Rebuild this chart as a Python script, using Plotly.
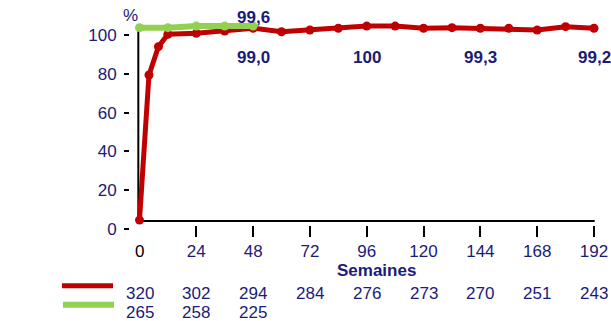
import plotly.graph_objects as go

# ---- data ----
red_weeks = [0, 4, 8, 12, 24, 36, 48, 60, 72, 84, 96, 108, 120, 132, 144, 156, 168, 180, 192]
red_vals = [4.6, 79.4, 94.0, 100.4, 100.9, 102.0, 103.5, 101.7, 102.6, 103.5, 104.6, 104.6,
            103.5, 103.8, 103.5, 103.5, 102.6, 104.3, 103.5]
green_weeks = [0, 12, 24, 36, 48]
green_vals = [103.8, 103.8, 104.6, 104.6, 104.6]

x_ticks = [24, 48, 72, 96, 120, 144, 168, 192]
y_ticks = [0, 20, 40, 60, 80, 100]

top_label_week = [48]
top_label_text = ["99,6"]
mid_label_weeks = [48, 96, 144, 192]
mid_label_text = ["99,0", "100", "99,3", "99,2"]

n_weeks = [0, 24, 48, 72, 96, 120, 144, 168, 192]
n_red = ["320", "302", "294", "284", "276", "273", "270", "251", "243"]
n_green_weeks = [0, 24, 48]
n_green = ["265", "258", "225"]

RED = "#c00000"
GREEN = "#92d050"
NAVY = "#1b1b78"
FONT = "Liberation Sans, Arial, sans-serif"

W, H = 611, 321
ML, MT = 130, 15
BOTTOM = 229  # pixel of plot bottom
MB = H - BOTTOM
PH = BOTTOM - MT
PW = W - ML


def py(p):
    """reference pixel y -> paper y"""
    return (BOTTOM - p) / PH


def px(p):
    """reference pixel x -> paper x"""
    return (p - ML) / PW


fig = go.Figure()
fig.add_trace(go.Scatter(x=red_weeks, y=red_vals, mode="lines+markers",
                         line=dict(color=RED, width=5), marker=dict(color=RED, size=9),
                         cliponaxis=False, showlegend=False))
fig.add_trace(go.Scatter(x=green_weeks, y=green_vals, mode="lines+markers",
                         line=dict(color=GREEN, width=6), marker=dict(color=GREEN, size=9),
                         cliponaxis=False, showlegend=False))

# axis lines
fig.add_shape(type="line", xref="x", yref="y", x0=-0.5, x1=-0.5, y0=4.1, y1=104.2,
              line=dict(color="black", width=2), layer="below")
fig.add_shape(type="line", xref="x", yref="y", x0=-0.5, x1=192.3, y0=4.1, y1=4.1,
              line=dict(color="black", width=2), layer="below")

base = dict(showarrow=False, xanchor="center", yanchor="middle")
ann = []
for w, t in zip(top_label_week, top_label_text):
    ann.append(dict(x=w, y=py(17), xref="x", yref="paper", text=f"<b>{t}</b>",
                    font=dict(size=17, color=NAVY, family=FONT), **base))
for w, t in zip(mid_label_weeks, mid_label_text):
    ann.append(dict(x=w, y=py(57), xref="x", yref="paper", text=f"<b>{t}</b>",
                    font=dict(size=17, color=NAVY, family=FONT), **base))
for w, t in zip(n_weeks, n_red):
    ann.append(dict(x=w, y=py(293), xref="x", yref="paper", text=t,
                    font=dict(size=17, color=NAVY, family=FONT), **base))
for w, t in zip(n_green_weeks, n_green):
    ann.append(dict(x=w, y=py(312.5), xref="x", yref="paper", text=t,
                    font=dict(size=17, color=NAVY, family=FONT), **base))
ann.append(dict(x=0, y=py(251.5), xref="x", yref="paper", text="0",
                font=dict(size=17, color="black", family=FONT), **base))
ann.append(dict(x=100, y=py(270.5), xref="x", yref="paper", text="<b>Semaines</b>",
                font=dict(size=17, color=NAVY, family=FONT), **base))
ann.append(dict(x=px(130), y=py(16), xref="paper", yref="paper", text="%",
                font=dict(size=17, color=NAVY, family=FONT), **base))
fig.update_layout(annotations=ann)

# legend swatches
fig.add_shape(type="line", xref="paper", yref="paper", x0=px(62), x1=px(113),
              y0=py(285.7), y1=py(285.7), line=dict(color=RED, width=5))
fig.add_shape(type="line", xref="paper", yref="paper", x0=px(63), x1=px(114),
              y0=py(304.7), y1=py(304.7), line=dict(color=GREEN, width=6))

x0_px, x192_px = 139.5, 594.0
ppw = (x192_px - x0_px) / 192
xmin = -(x0_px - ML) / ppw
xmax = xmin + PW / ppw

fig.update_layout(
    width=W, height=H,
    margin=dict(l=ML, r=0, t=MT, b=MB, pad=0),
    plot_bgcolor="white", paper_bgcolor="white",
    font=dict(family=FONT, size=17, color=NAVY),
    hovermode=False,
    xaxis=dict(range=[xmin, xmax], tickvals=x_ticks, ticktext=[str(v) for v in x_ticks],
               showgrid=False, zeroline=False, showline=False,
               ticks="outside", ticklen=11, tickwidth=2, tickcolor="black",
               anchor="free", position=py(225),
               tickfont=dict(size=17, color=NAVY, family=FONT)),
    yaxis=dict(range=[0, PH / 1.94], tickvals=y_ticks, showgrid=False, zeroline=False, showline=False,
               ticks="outside", ticklen=5, tickwidth=2, tickcolor="black",
               ticklabelstandoff=4,
               tickfont=dict(size=17, color=NAVY, family=FONT)),
)

fig.write_html("out.html",
               config={"displayModeBar": False},
               post_script="document.body.style.margin='0';"
                           "document.documentElement.style.overflow='hidden';")
